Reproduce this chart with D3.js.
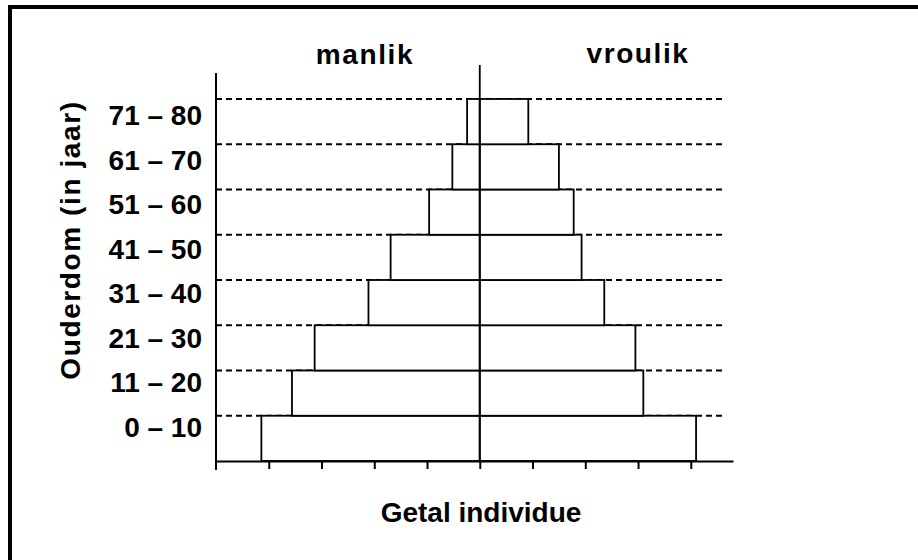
<!DOCTYPE html>
<html>
<head>
<meta charset="utf-8">
<script src="https://cdn.jsdelivr.net/npm/d3@7"></script>
<style>
  body { margin: 0; background: #fff; }
  text { font-family: "Liberation Sans", Arial, sans-serif; font-weight: bold; fill: #000; }
</style>
</head>
<body>
<script>
// age groups from bottom to top
var ageGroups = ['0 – 10', '11 – 20', '21 – 30', '31 – 40', '41 – 50', '51 – 60', '61 – 70', '71 – 80'];
// number of individuals (in tick units)
var male   = [4.14, 3.56, 3.13, 2.11, 1.69, 0.96, 0.52, 0.24];
var female = [4.10, 3.10, 2.95, 2.36, 1.93, 1.78, 1.50, 0.92];
var xTicks = [-4, -3, -2, -1, 0, 1, 2, 3, 4];

var width = 918,
    height = 560;

var x = d3.scaleLinear()
    .domain([-5, 4.8])
    .range([216, 733]);

var y = d3.scaleBand()
    .domain(ageGroups)
    .range([461, 99]);

// tick label baselines
var yLabel = d3.scalePoint()
    .domain(ageGroups)
    .range([437, 125]);

var chart = d3.select('body')
    .append('svg')
    .attr('width', width)
    .attr('height', height);

// frame
chart.append('rect')
    .attr('x', 10)
    .attr('y', 7)
    .attr('width', 1000)
    .attr('height', 1000)
    .attr('fill', 'none')
    .attr('stroke', '#000')
    .attr('stroke-width', 4);

var main = chart.append('g');

// dashed guide lines at top of each age band
main.selectAll('.guide')
    .data(ageGroups)
    .enter().append('line')
    .attr('class', 'guide')
    .attr('x1', x(-5))
    .attr('x2', 722)
    .attr('y1', function (d) { return y(d); })
    .attr('y2', function (d) { return y(d); })
    .attr('stroke', '#000')
    .attr('stroke-width', 1.8)
    .attr('stroke-dasharray', '6,4');

var rows = ageGroups.map(function (g, i) { return {group: g, m: male[i], f: female[i]}; });

main.selectAll('.male')
    .data(rows)
    .enter().append('rect')
    .attr('class', 'male')
    .attr('x', function (d) { return x(-d.m); })
    .attr('y', function (d) { return y(d.group); })
    .attr('width', function (d) { return x(0) - x(-d.m); })
    .attr('height', y.bandwidth())
    .attr('fill', '#fff')
    .attr('stroke', '#000')
    .attr('stroke-width', 1.8);

main.selectAll('.female')
    .data(rows)
    .enter().append('rect')
    .attr('class', 'female')
    .attr('x', x(0))
    .attr('y', function (d) { return y(d.group); })
    .attr('width', function (d) { return x(d.f) - x(0); })
    .attr('height', y.bandwidth())
    .attr('fill', '#fff')
    .attr('stroke', '#000')
    .attr('stroke-width', 1.8);

// centre line
main.append('line')
    .attr('x1', x(0)).attr('x2', x(0))
    .attr('y1', 65).attr('y2', y.range()[0])
    .attr('stroke', '#000')
    .attr('stroke-width', 1.8);

// x axis
var x_axis = d3.axisBottom(x)
    .tickValues(xTicks)
    .tickFormat('')
    .tickSize(8)
    .tickSizeOuter(0);

var xg = main.append('g')
    .attr('transform', 'translate(0,' + y.range()[0] + ')')
    .call(x_axis);
xg.selectAll('path, line').attr('stroke', '#000').attr('stroke-width', 2);

// y axis line
main.append('line')
    .attr('x1', x(-5)).attr('x2', x(-5))
    .attr('y1', 73).attr('y2', y.range()[0] + 9)
    .attr('stroke', '#000')
    .attr('stroke-width', 2);

// age labels
main.selectAll('.age')
    .data(ageGroups)
    .enter().append('text')
    .attr('class', 'age')
    .attr('x', 202)
    .attr('y', function (d) { return yLabel(d); })
    .style('text-anchor', 'end')
    .style('font-size', '28px')
    .text(function (d) { return d; });

main.append('text')
    .attr('x', 365)
    .attr('y', 64)
    .style('text-anchor', 'middle')
    .style('font-size', '28px')
    .style('letter-spacing', '1.6px')
    .text('manlik');

main.append('text')
    .attr('x', 638)
    .attr('y', 63)
    .style('text-anchor', 'middle')
    .style('font-size', '28px')
    .style('letter-spacing', '1.6px')
    .text('vroulik');

main.append('text')
    .attr('x', 481)
    .attr('y', 522)
    .style('text-anchor', 'middle')
    .style('font-size', '28px')
    .text('Getal individue');

main.append('text')
    .attr('transform', 'rotate(-90)')
    .attr('x', -240)
    .attr('y', 80)
    .style('text-anchor', 'middle')
    .style('font-size', '28px')
    .style('letter-spacing', '1.6px')
    .text('Ouderdom (in jaar)');
</script>
</body>
</html>
